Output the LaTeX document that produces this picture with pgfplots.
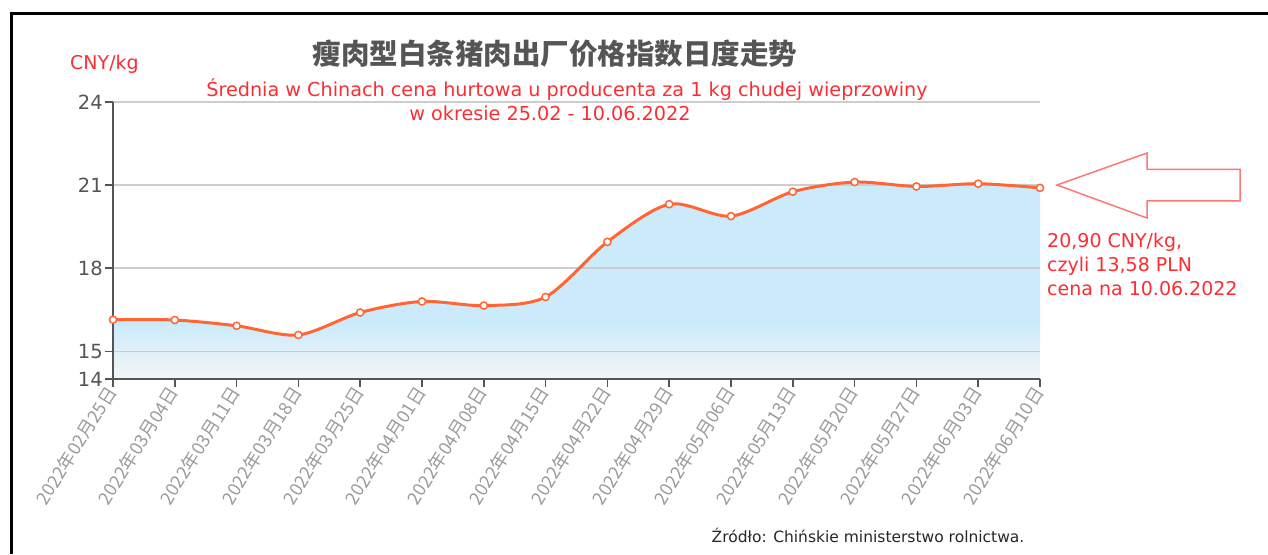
\documentclass[border=0pt]{standalone}
\usepackage{fontspec}
\setmainfont{DejaVu Sans}
\newfontfamily\cjk{Noto Sans CJK SC}
\usepackage{pgfplots}
\pgfplotsset{compat=1.18}
\definecolor{areablue}{RGB}{203,235,250}
\definecolor{fadegray}{RGB}{245,245,246}
\definecolor{lineor}{RGB}{255,102,51}
\definecolor{txtred}{RGB}{250,45,50}
\definecolor{axgray}{RGB}{85,85,85}
\definecolor{gridgray}{RGB}{205,205,205}
\definecolor{ticklab}{RGB}{155,155,155}
\definecolor{arrowred}{RGB}{255,120,120}
\pgfdeclareverticalshading{areafade}{100bp}{color(0bp)=(fadegray); color(25bp)=(fadegray); color(39bp)=(areablue); color(100bp)=(areablue)}
\begin{document}
\begin{tikzpicture}[x=1pt,y=1pt]
\draw[line width=3pt, miter limit=10] (11,0) -- (11,540.5) -- (1268,540.5);
\begin{axis}[
  at={(113pt,175pt)}, anchor=south west,
  scale only axis, width=927pt, height=277pt,
  xmin=0, xmax=15, ymin=14, ymax=24,
  axis x line*=bottom, axis y line*=left,
  xtick={0,...,15},
  xticklabels={2022年02月25日,2022年03月04日,2022年03月11日,2022年03月18日,2022年03月25日,2022年04月01日,2022年04月08日,2022年04月15日,2022年04月22日,2022年04月29日,2022年05月06日,2022年05月13日,2022年05月20日,2022年05月27日,2022年06月03日,2022年06月10日},
  ytick={14,15,18,21,24},
  ymajorgrids, grid style={draw=gridgray, line width=1.5pt},
  tick align=outside, major tick length=8pt,
  axis line style={draw=axgray, line width=2pt},
  tick style={draw=axgray, line width=1.5pt},
  /pgf/number format/assume math mode=true,
  yticklabel style={font=\fontsize{19.5}{19.5}\selectfont, text=axgray, inner sep=2pt},
  xticklabel style={font=\cjk\fontsize{18}{18}\selectfont, text=ticklab, rotate=58, anchor=east, inner sep=2pt},
  set layers,
  clip=false,
]
\addplot[on layer=axis background, draw=none, shading=areafade, smooth] coordinates {
(0,16.14) (1,16.13) (2,15.92) (3,15.59) (4,16.40) (5,16.80) (6,16.65) (7,16.96)
(8,18.95) (9,20.31) (10,19.88) (11,20.76) (12,21.11) (13,20.95) (14,21.05) (15,20.90)} \closedcycle;
\addplot[draw=lineor, line width=3pt, smooth, mark=*, mark size=3.6pt,
  mark options={fill=white, draw=lineor, line width=1.5pt}] coordinates {
(0,16.14) (1,16.13) (2,15.92) (3,15.59) (4,16.40) (5,16.80) (6,16.65) (7,16.96)
(8,18.95) (9,20.31) (10,19.88) (11,20.76) (12,21.11) (13,20.95) (14,21.05) (15,20.90)};
\end{axis}
\node[anchor=center, inner sep=0, text=axgray, font=\cjk\bfseries\fontsize{28.5}{28.5}\selectfont] at (555,500) {瘦肉型白条猪肉出厂价格指数日度走势};
\node[anchor=base west, inner sep=0, text=txtred, font=\fontsize{19}{19}\selectfont] at (70,484) {CNY/kg};
\node[anchor=base, inner sep=0, text=txtred, font=\fontsize{19.2}{19.2}\selectfont] at (567,457) {Średnia w Chinach cena hurtowa u producenta za 1 kg chudej wieprzowiny};
\node[anchor=base, inner sep=0, text=txtred, font=\fontsize{19.2}{19.2}\selectfont] at (550,433) {w okresie 25.02 - 10.06.2022};
\node[anchor=base west, inner sep=0, text=txtred, font=\fontsize{19}{19}\selectfont] at (1047,306) {20,90 CNY/kg,};
\node[anchor=base west, inner sep=0, text=txtred, font=\fontsize{19}{19}\selectfont] at (1047,282.5) {czyli 13,58 PLN};
\node[anchor=base west, inner sep=0, text=txtred, font=\fontsize{19}{19}\selectfont] at (1047,258.5) {cena na 10.06.2022};
\node[anchor=base, inner sep=0, text=black!85, font=\fontsize{15.5}{15.5}\selectfont] at (868,12) {Źródło: Chińskie ministerstwo rolnictwa.};
\draw[arrowred, line width=1.5pt, line join=miter] (1057,369) -- (1147,401) -- (1147,384.5) -- (1240,384.5) -- (1240,353) -- (1147,353) -- (1147,336) -- cycle;
\pgfresetboundingbox
\path[use as bounding box] (0,0) rectangle (1268,554);
\end{tikzpicture}
\end{document}
